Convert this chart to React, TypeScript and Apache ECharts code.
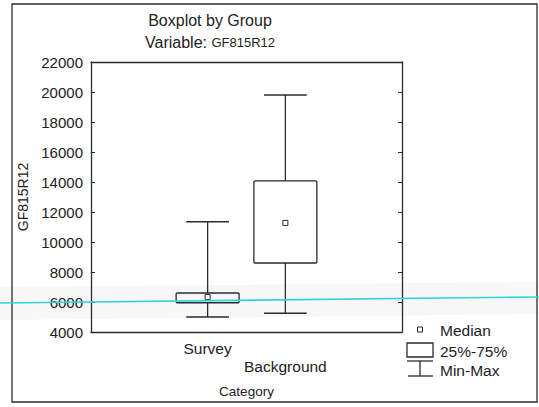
import React, { useEffect, useRef } from "react";
import * as echarts from "echarts";

const categories = ["Survey", "Background"];
const minValues = [5000, 5250];
const q1Values = [5950, 8600];
const medianValues = [6330, 11270];
const q3Values = [6600, 14070];
const maxValues = [11350, 19800];
const yMin = 4000;
const yMax = 22000;
const yStep = 2000;

const FONT = "'Liberation Sans', Arial, sans-serif";
const INK = "#2b2b2b";

export default function App() {
  const ref = useRef<HTMLDivElement>(null);

  useEffect(() => {
    if (!ref.current) return;
    const chart = echarts.init(ref.current, null, { renderer: "svg" });
    const axisCats = ["", ...categories, ""];
    const boxData = categories.map((c, i) => [
      i + 1,
      minValues[i],
      q1Values[i],
      medianValues[i],
      q3Values[i],
      maxValues[i],
    ]);

    const renderItem = (params: any, api: any) => {
      const x = api.value(0);
      const pMin = api.coord([x, api.value(1)]);
      const pQ1 = api.coord([x, api.value(2)]);
      const pMed = api.coord([x, api.value(3)]);
      const pQ3 = api.coord([x, api.value(4)]);
      const pMax = api.coord([x, api.value(5)]);
      const band = api.size([1, 0])[0];
      const bw = band * 0.81;
      const cw = band * 0.55;
      const cx = pMed[0];
      const st = { stroke: INK, lineWidth: 1.3, fill: "none" };
      return {
        type: "group",
        children: [
          { type: "line", shape: { x1: cx, y1: pQ3[1], x2: cx, y2: pMax[1] }, style: st },
          { type: "line", shape: { x1: cx, y1: pMin[1], x2: cx, y2: pQ1[1] }, style: st },
          { type: "line", shape: { x1: cx - cw / 2, y1: pMax[1], x2: cx + cw / 2, y2: pMax[1] }, style: st },
          { type: "line", shape: { x1: cx - cw / 2, y1: pMin[1], x2: cx + cw / 2, y2: pMin[1] }, style: st },
          {
            type: "rect",
            shape: { x: cx - bw / 2, y: pQ3[1], width: bw, height: pQ1[1] - pQ3[1], r: 1 },
            style: { stroke: INK, lineWidth: 1.3, fill: "rgba(0,0,0,0)" },
          },
          {
            type: "rect",
            shape: { x: cx - 2.5, y: pMed[1] - 2.5, width: 5, height: 5 },
            style: { stroke: INK, lineWidth: 1, fill: "#fff" },
          },
        ],
      };
    };

    const textStyle = { fontFamily: FONT, color: "#222" };

    const option: any = {
      animation: false,
      backgroundColor: "#fff",
      title: [
        {
          text: "Boxplot by Group",
          left: 210,
          top: 12,
          textAlign: "center",
          padding: 0,
          textStyle: { ...textStyle, fontSize: 16, fontWeight: "normal", lineHeight: 16 },
        },
        {
          text: "{a|Variable: }{b|GF815R12}",
          left: 210,
          top: 34,
          textAlign: "center",
          padding: 0,
          textStyle: {
            ...textStyle,
            fontWeight: "normal",
            rich: {
              a: { fontFamily: FONT, fontSize: 16, color: "#222", lineHeight: 16 },
              b: { fontFamily: FONT, fontSize: 13, color: "#222", lineHeight: 16 },
            },
          },
        },
      ],
      grid: { left: 91, top: 62, width: 311, height: 270, containLabel: false },
      xAxis: [
        {
          type: "category",
          data: axisCats,
          boundaryGap: true,
          position: "bottom",
          name: "Category",
          nameLocation: "middle",
          nameGap: 52,
          nameTextStyle: { ...textStyle, fontSize: 13.5 },
          axisLine: { lineStyle: { color: INK, width: 1.3 } },
          axisTick: { inside: true, alignWithLabel: true, length: 4, interval: 0, lineStyle: { color: INK } },
          axisLabel: {
            interval: 0,
            margin: 7,
            fontFamily: FONT,
            fontSize: 15.5,
            color: "#222",
            lineHeight: 18,
            formatter: (v: string, i: number) => (i === 2 ? "\n" + v : v),
          },
          splitLine: { show: false },
        },
        {
          type: "category",
          data: axisCats,
          boundaryGap: true,
          position: "top",
          axisLine: { lineStyle: { color: INK, width: 1.3 } },
          axisTick: { inside: true, alignWithLabel: true, length: 4, interval: 0, lineStyle: { color: INK } },
          axisLabel: { show: false },
          splitLine: { show: false },
        },
      ],
      yAxis: [
        {
          type: "value",
          min: yMin,
          max: yMax,
          interval: yStep,
          position: "left",
          name: "GF815R12",
          nameLocation: "middle",
          nameGap: 49,
          nameRotate: 90,
          nameTextStyle: { ...textStyle, fontSize: 14 },
          axisLine: { show: true, lineStyle: { color: INK, width: 1.3 } },
          axisTick: { show: true, inside: true, length: 4, lineStyle: { color: INK } },
          axisLabel: {
            margin: 8,
            fontFamily: FONT,
            fontSize: 15,
            color: "#222",
            formatter: (v: number) => String(v),
          },
          splitLine: { show: false },
        },
        {
          type: "value",
          min: yMin,
          max: yMax,
          interval: yStep,
          position: "right",
          axisLine: { show: true, lineStyle: { color: INK, width: 1.3 } },
          axisTick: { show: true, inside: true, length: 4, lineStyle: { color: INK } },
          axisLabel: { show: false },
          splitLine: { show: false },
        },
      ],
      series: [
        {
          type: "custom",
          name: "GF815R12",
          renderItem,
          data: boxData,
          encode: { x: 0, y: [1, 2, 3, 4, 5] },
          z: 5,
        },
      ],
      graphic: [
        {
          type: "polygon",
          z: -10,
          silent: true,
          shape: { points: [[0, 287], [539, 282], [539, 314], [0, 320]] },
          style: { fill: "#f7f7f7" },
        },
        {
          type: "rect",
          z: 50,
          silent: true,
          shape: { x: 12, y: 4, width: 525, height: 398 },
          style: { fill: "none", stroke: INK, lineWidth: 1.3 },
        },
        {
          type: "rect",
          z: 50,
          shape: { x: 417.5, y: 327, width: 5, height: 5 },
          style: { fill: "#fff", stroke: INK, lineWidth: 1 },
        },
        {
          type: "text",
          z: 50,
          x: 440,
          y: 330.5,
          style: { text: "Median", font: `15.5px ${FONT}`, fill: "#222", align: "left", verticalAlign: "middle" },
        },
        {
          type: "rect",
          z: 50,
          shape: { x: 407, y: 343, width: 26, height: 14 },
          style: { fill: "none", stroke: INK, lineWidth: 1.3 },
        },
        {
          type: "text",
          z: 50,
          x: 440,
          y: 351,
          style: { text: "25%-75%", font: `15.5px ${FONT}`, fill: "#222", align: "left", verticalAlign: "middle" },
        },
        {
          type: "line",
          z: 50,
          shape: { x1: 407, y1: 361, x2: 433, y2: 361 },
          style: { stroke: INK, lineWidth: 1.3 },
        },
        {
          type: "line",
          z: 50,
          shape: { x1: 420, y1: 361, x2: 420, y2: 376 },
          style: { stroke: INK, lineWidth: 1.3 },
        },
        {
          type: "line",
          z: 50,
          shape: { x1: 408, y1: 376, x2: 433, y2: 376 },
          style: { stroke: INK, lineWidth: 1.3 },
        },
        {
          type: "text",
          z: 50,
          x: 440,
          y: 370,
          style: { text: "Min-Max", font: `15.5px ${FONT}`, fill: "#222", align: "left", verticalAlign: "middle" },
        },
        {
          type: "line",
          z: 100,
          silent: true,
          shape: { x1: 0, y1: 303, x2: 539, y2: 297 },
          style: { stroke: "#33d4d8", lineWidth: 1.6 },
        },
      ],
    };

    chart.setOption(option);
    return () => chart.dispose();
  }, []);

  return (
    <div
      ref={ref}
      style={{ position: "fixed", left: 0, top: 0, width: 539, height: 407 }}
    />
  );
}
